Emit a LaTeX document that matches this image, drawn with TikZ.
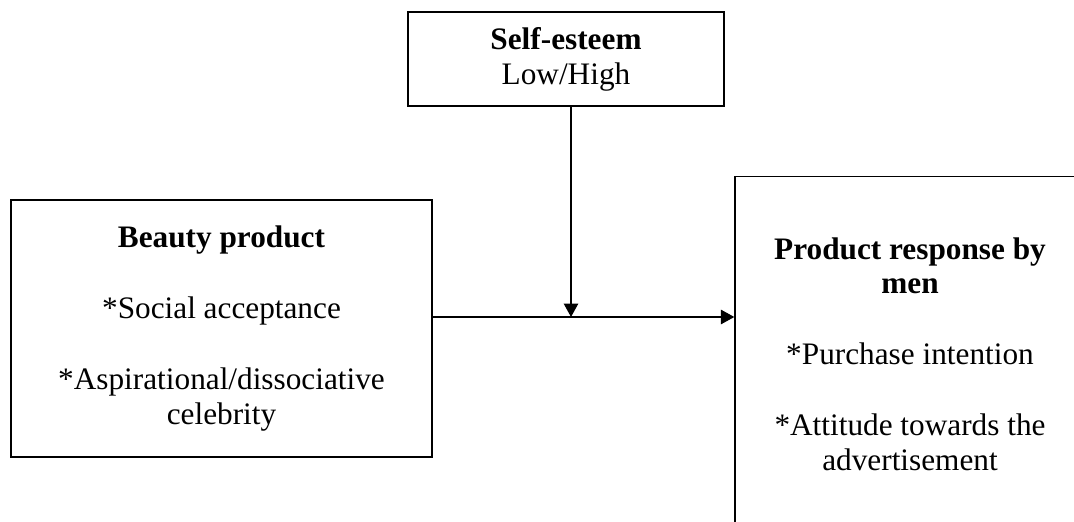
\documentclass[tikz,border=0pt]{standalone}
\usepackage{fontspec}
\setmainfont{Liberation Serif}
\usetikzlibrary{arrows.meta,positioning}

\begin{document}
\begin{tikzpicture}[x=0.02cm, y=-0.02cm,
  font=\fontsize{17.8}{19.8}\selectfont,
  box/.style={draw, line width=0.8pt, align=center, inner sep=0pt},
  link/.style={-{Triangle[length=0.27cm,width=0.29cm]}, line width=0.8pt}]
\useasboundingbox (0,0) rectangle (1074,521);
\clip (0,0) rectangle (1074,521);
\coordinate (join) at (571,317);
\node[box, minimum width=6.32cm, minimum height=1.88cm](self_esteem) at (566,59){\textbf{Self-esteem}\\Low/High};
\node[box, minimum width=8.42cm, minimum height=5.14cm](beauty_product) at (221.5,328.5){\textbf{Beauty product}\\[20.5pt]*Social acceptance\\[20.5pt]*Aspirational/dissociative\\celebrity};
\node[box, minimum width=7cm, minimum height=7.1cm](product_response) at (910,354){\textbf{Product response by}\\\textbf{men}\\[20.5pt]*Purchase intention\\[20.5pt]*Attitude towards the\\advertisement};

\draw[link](self_esteem.south -| join) -- (join);
\draw[link](beauty_product.east |- join) -- (product_response.west |- join);
\end{tikzpicture}
\end{document}
